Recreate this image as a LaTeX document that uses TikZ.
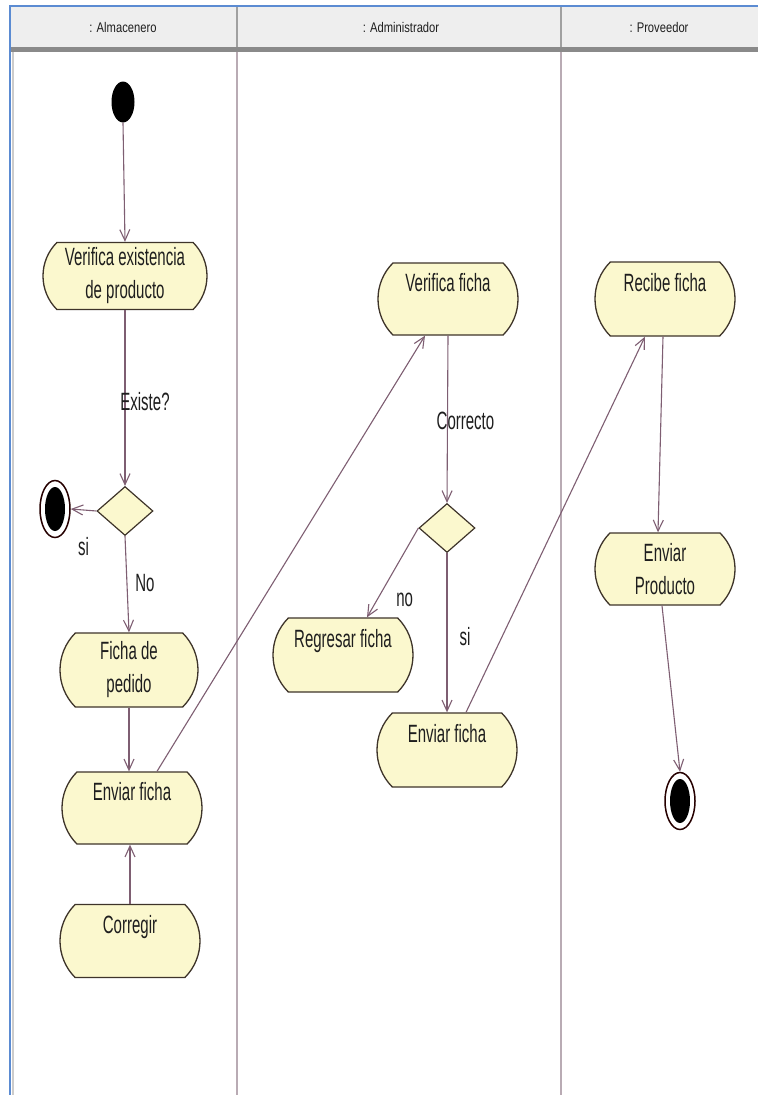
\documentclass[tikz,border=0pt]{standalone}
\usepackage{fontspec}
\usepackage{graphicx}
\setmainfont{Liberation Sans}
\newfontfamily\actfont{Liberation Sans}[FakeStretch=0.6]
\newfontfamily\headfont{Liberation Sans}[FakeStretch=0.8]
\usetikzlibrary{shapes.misc,shapes.geometric,arrows.meta,calc}

\definecolor{actfill}{HTML}{FBF8CE}
\definecolor{actdraw}{HTML}{3E342A}
\definecolor{flow}{HTML}{7E5E72}
\definecolor{lane}{HTML}{B9ABB4}
\definecolor{headfill}{HTML}{EEEEEE}
\definecolor{headbar}{HTML}{8A8A8A}
\definecolor{headsep}{HTML}{A0A0A0}
\definecolor{frameblue}{HTML}{5B8BD2}
\definecolor{ink}{HTML}{1E1E1E}

\tikzset{
  activity/.style={rounded rectangle, rounded rectangle arc length=90,
    draw=actdraw, line width=1.3pt, fill=actfill,
    minimum width=140pt, minimum height=72pt, inner sep=0pt, align=center,
    font=\actfont\fontsize{25}{33}\selectfont, text=ink},
  decision/.style={diamond, draw=actdraw, line width=1.2pt, fill=actfill,
    minimum width=56pt, minimum height=49pt, inner sep=0pt},
  startnode/.style={ellipse, fill=black, minimum width=23pt,
    minimum height=41pt, inner sep=0pt},
  endnode/.style={ellipse, draw=black!85!red, line width=1.5pt, fill=white,
    minimum width=30pt, minimum height=57pt, inner sep=0pt,
    path picture={\fill[black] (path picture bounding box.center)
      ellipse [x radius=10pt, y radius=22pt];}},
  flowline/.style={draw=flow, line width=1.1pt,
    -{Straight Barb[length=11pt,width=10pt]}},
  guard/.style={font=\actfont\fontsize{25}{30}\selectfont, text=ink,
    inner sep=0pt},
  lanehead/.style={font=\headfont\fontsize{14}{16}\selectfont, text=ink,
    inner sep=0pt},
}

\begin{document}
\begin{tikzpicture}[x=1pt,y=-1pt]
  \useasboundingbox (0,0) rectangle (758,1095);
  \fill[white] (0,0) rectangle (758,1095);

  % swimlane header
  \fill[headfill] (10,7) rectangle (758,47);
  \fill[headbar] (10,47) rectangle (758,52);
  \draw[headsep, line width=1.5pt] (237,7) -- (237,47);
  \draw[headsep, line width=1.5pt] (561,7) -- (561,47);
  \node[lanehead] (hAlm) at (123,27) {: Almacenero};
  \node[lanehead] (hAdm) at (401,27) {: Administrador};
  \node[lanehead] (hPro) at (659,27) {: Proveedor};

  % lane separators and frame
  \draw[lane, line width=2pt] (237,52) -- (237,1095);
  \draw[lane, line width=2pt] (561,52) -- (561,1095);
  \draw[black!20, line width=1.5pt] (13,52) -- (13,1095);
  \draw[frameblue, line width=2pt] (10,1095) -- (10,6) -- (758,6);

  % Almacenero
  \node[startnode] (start) at (123,102) {};
  \node[activity, minimum width=164pt, minimum height=67pt] (verExist) at (125,276)
    {Verifica existencia\\de producto};
  \node[decision] (dia1) at (125,511) {};
  \node[endnode] (endL) at (55,509) {};
  \node[activity, minimum width=138pt, minimum height=74pt] (ficha) at (129,670)
    {Ficha de\\pedido};
  \node[activity] (envL) at (132,808) {Enviar ficha\\\mbox{}};
  \node[activity, minimum height=73pt] (corregir) at (130,941) {Corregir\\\mbox{}};

  % Administrador
  \node[activity] (verFicha) at (448,299) {Verifica ficha\\\mbox{}};
  \node[decision] (dia2) at (447,528) {};
  \node[activity, minimum height=74pt] (regresar) at (343,655) {Regresar ficha\\\mbox{}};
  \node[activity, minimum height=74pt] (envA) at (447,750) {Enviar ficha\\\mbox{}};

  % Proveedor
  \node[activity, minimum height=74pt] (recibe) at (665,299) {Recibe ficha\\\mbox{}};
  \node[activity] (envProd) at (665,569) {Enviar\\Producto};
  \node[endnode] (endR) at (680,801) {};

  % control flows
  \draw[flowline] (start.south) -- (verExist.north);
  \draw[flowline] (verExist.south) --
    node[guard, pos=0.52, xshift=20pt] (gExiste) {Existe?} (dia1.north);
  \draw[flowline] (dia1.west) --
    node[guard, pos=0.5, yshift=-37pt] (gSiL) {si} (endL.east);
  \draw[flowline] (dia1.south) --
    node[guard, pos=0.49, xshift=18pt] (gNo) {No} (ficha.north);
  \draw[flowline] (ficha.south) -- (ficha.south |- envL.north);
  \draw[flowline] (corregir.north) -- (corregir.north |- envL.south);
  \draw[flowline] ($(envL.north)+(25,0)$) -- ($(verFicha.south)+(-23,0)$);

  \draw[flowline] (verFicha.south) --
    node[guard, pos=0.51, xshift=18pt] (gCorrecto) {Correcto} (dia2.north);
  \draw[flowline] (dia2.west) --
    node[guard, pos=0.5, xshift=12pt, yshift=-27pt] (gNoA) {no}
    ($(regresar.north)+(24,0)$);
  \draw[flowline] (dia2.south) --
    node[guard, pos=0.525, xshift=18pt] (gSiA) {si} (envA.north);
  \draw[flowline] ($(envA.north)+(19,0)$) -- ($(recibe.south)+(-20,0)$);

  \draw[flowline] ($(recibe.south)+(-2,0)$) -- ($(envProd.north)+(-7,0)$);
  \draw[flowline] ($(envProd.south)+(-3,0)$) -- (endR.north);
\end{tikzpicture}
\end{document}
